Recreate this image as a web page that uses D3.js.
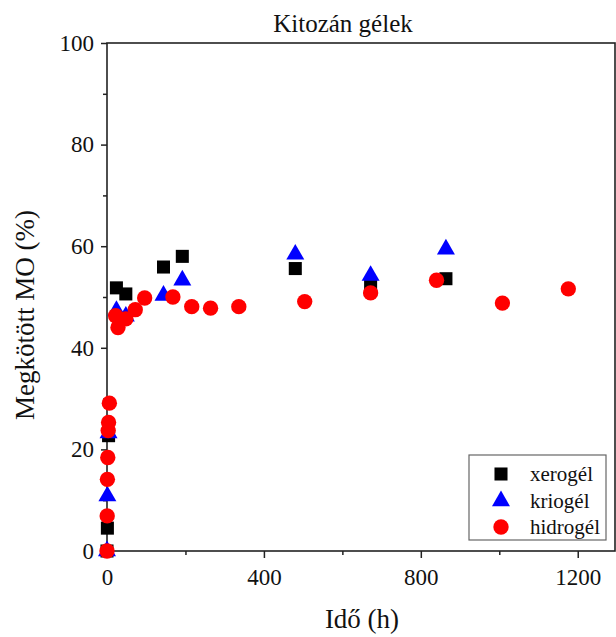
<!DOCTYPE html>
<html>
<head>
<meta charset="utf-8">
<script src="https://cdn.jsdelivr.net/npm/d3@7"></script>
<style>
  body { margin: 0; background: #fff; }
  svg text { font-family: "Liberation Serif", "DejaVu Serif", serif; fill: #111; }
</style>
</head>
<body>
<div class="chart"></div>
<script>
// Kitozán gélek - megkötött MO vs idő
const xeroTime  = [0, 1, 4, 24, 48, 144, 192, 480, 672, 864]
const xeroValue = [0, 4.5, 22.7, 51.8, 50.6, 55.9, 58.0, 55.6, 52.3, 53.6]

const krioTime  = [0, 1, 4, 24, 48, 144, 192, 480, 672, 864]
const krioValue = [0, 10.8, 23.2, 47.3, 46.2, 50.3, 53.3, 58.4, 54.2, 59.4]

const hidroTime  = [0, 0.5, 1, 2, 3, 4, 6, 22, 28, 48, 72, 96, 168, 216, 264, 336, 504, 672, 840, 1008, 1176]
const hidroValue = [0, 6.9, 14.1, 18.4, 23.7, 25.3, 29.1, 46.3, 44.0, 45.7, 47.5, 49.8, 50.0, 48.1, 47.8, 48.1, 49.1, 50.8, 53.3, 48.8, 51.6]

const xMajor = [0, 400, 800, 1200]
const xMinor = [200, 600, 1000]
const yMajor = [0, 20, 40, 60, 80, 100]
const yMinor = [10, 30, 50, 70, 90]

const seriesNames = ['xerogél', 'kriogél', 'hidrogél']

const W = 616, H = 637
const m = {left: 107, right: 615, top: 43, bottom: 551}

const x = d3.scaleLinear().domain([0, 1295]).range([m.left, m.right])
const y = d3.scaleLinear().domain([0, 100]).range([m.bottom, m.top])

const svg = d3.select('.chart').append('svg')
  .attr('width', W)
  .attr('height', H)

// ticks
const xAxis = svg.append('g')
  .attr('transform', 'translate(0,' + m.bottom + ')')
  .call(d3.axisBottom(x).tickValues(xMajor).tickSize(7).tickPadding(11).tickFormat(d3.format('d')))
xAxis.selectAll('text').style('font-size', '23px')
svg.append('g')
  .attr('transform', 'translate(0,' + m.bottom + ')')
  .call(d3.axisBottom(x).tickValues(xMinor).tickSize(4).tickFormat(''))

const yAxis = svg.append('g')
  .attr('transform', 'translate(' + m.left + ',0)')
  .call(d3.axisLeft(y).tickValues(yMajor).tickSize(6).tickPadding(7))
yAxis.selectAll('text').style('font-size', '23px')
svg.append('g')
  .attr('transform', 'translate(' + m.left + ',0)')
  .call(d3.axisLeft(y).tickValues(yMinor).tickSize(4).tickFormat(''))

svg.selectAll('.domain').remove()
svg.selectAll('.tick line').attr('stroke', '#222').attr('stroke-width', 1.5)

// frame
svg.append('rect')
  .attr('x', m.left).attr('y', m.top)
  .attr('width', m.right - m.left).attr('height', m.bottom - m.top)
  .attr('fill', 'none')
  .attr('stroke', '#222')
  .attr('stroke-width', 1.6)

// titles
svg.append('text')
  .attr('x', 343).attr('y', 32)
  .attr('text-anchor', 'middle')
  .style('font-size', '25px')
  .text('Kitozán gélek')

svg.append('text')
  .attr('x', 362).attr('y', 628)
  .attr('text-anchor', 'middle')
  .style('font-size', '27px')
  .text('Idő (h)')

svg.append('text')
  .attr('transform', 'translate(34,315) rotate(-90)')
  .attr('text-anchor', 'middle')
  .style('font-size', '27px')
  .text('Megkötött MO (%)')

// markers
const sym = [
  d3.symbol().type(d3.symbolSquare).size(170),
  d3.symbol().type(d3.symbolTriangle).size(140),
  d3.symbol().type(d3.symbolCircle).size(185)
]
const colors = ['#000000', '#0000ff', '#ff0000']

const series = [
  d3.zip(xeroTime, xeroValue),
  d3.zip(krioTime, krioValue),
  d3.zip(hidroTime, hidroValue)
]

series.forEach((pts, i) => {
  svg.append('g')
    .selectAll('path')
    .data(pts)
    .enter()
    .append('path')
      .attr('d', sym[i])
      .attr('transform', (d) => 'translate(' + x(d[0]) + ',' + y(d[1]) + ')')
      .attr('fill', colors[i])
})

// legend
const lg = svg.append('g')
lg.append('rect')
  .attr('x', 469).attr('y', 455)
  .attr('width', 137).attr('height', 85)
  .attr('fill', '#fff')
  .attr('stroke', '#666')
  .attr('stroke-width', 1.2)

const legendY = [474, 501, 527]
seriesNames.forEach((name, i) => {
  lg.append('path')
    .attr('d', sym[i])
    .attr('transform', 'translate(501,' + legendY[i] + ')')
    .attr('fill', colors[i])
  lg.append('text')
    .attr('x', 530).attr('y', legendY[i] + 7)
    .style('font-size', '21px')
    .text(name)
})
</script>
</body>
</html>
